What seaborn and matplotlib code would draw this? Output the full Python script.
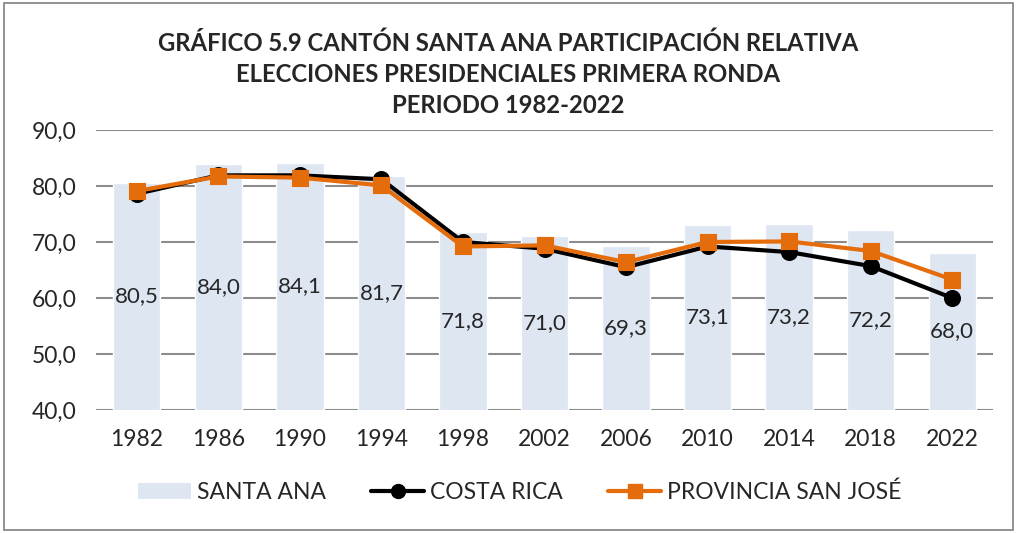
import matplotlib
matplotlib.use("Agg")
import matplotlib.pyplot as plt
import seaborn as sns
import pandas as pd
from matplotlib.patches import Patch, Rectangle
from matplotlib.lines import Line2D

# values
years = ["1982", "1986", "1990", "1994", "1998", "2002", "2006", "2010", "2014", "2018", "2022"]
santa_ana = [80.5, 84.0, 84.1, 81.7, 71.8, 71.0, 69.3, 73.1, 73.2, 72.2, 68.0]
costa_rica = [78.6, 81.9, 81.9, 81.2, 70.0, 68.8, 65.5, 69.2, 68.2, 65.7, 60.0]
san_jose = [79.1, 81.7, 81.5, 80.1, 69.2, 69.4, 66.4, 70.0, 70.1, 68.4, 63.3]

title = ("GRÁFICO 5.9 CANTÓN SANTA ANA PARTICIPACIÓN RELATIVA\n"
         "ELECCIONES PRESIDENCIALES PRIMERA RONDA\n"
         "PERIODO 1982-2022")

BAR_COLOR = "#DEE6F2"
ORANGE = "#E46C0A"

sns.set_style("white")
plt.rcParams["font.family"] = ["Lato", "DejaVu Sans"]

df = pd.DataFrame({"year": years, "santa_ana": santa_ana,
                   "costa_rica": costa_rica, "san_jose": san_jose})

fig = plt.figure(figsize=(10.17, 5.33), dpi=100)
ax = fig.add_axes([0.0944, 0.2308, 0.8820, 0.5253])

sns.barplot(data=df, x="year", y="santa_ana", color=BAR_COLOR, saturation=1,
            width=0.58, ax=ax, zorder=2)
sns.pointplot(data=df, x="year", y="costa_rica", color="black", markers="o",
              markersize=10, linewidth=3, ax=ax, zorder=4)
sns.pointplot(data=df, x="year", y="san_jose", color=ORANGE, markers="s",
              markersize=10, linewidth=3, ax=ax, zorder=5)

ax.set_ylim(40, 90)
ax.set_xlim(-0.5, len(years) - 0.5)
ax.set_yticks([40, 50, 60, 70, 80, 90])
ax.set_yticklabels([f"{v:.1f}".replace(".", ",") for v in [40, 50, 60, 70, 80, 90]])
ax.yaxis.grid(True, color="#8c8c8c", linewidth=1.5, zorder=0)
ax.set_axisbelow(True)
for s in ax.spines.values():
    s.set_visible(False)
ax.tick_params(axis="both", labelsize=16.5, length=0)
ax.tick_params(axis="x", pad=14)
ax.tick_params(axis="y", pad=14)
ax.set_xlabel("")
ax.set_ylabel("")

# value labels centred in the visible part of each bar
for i, v in enumerate(santa_ana):
    ax.text(i, (40 + v) / 2, f"{v:.1f}".replace(".", ","), ha="center",
            va="center", fontsize=16, zorder=6)

fig.suptitle(title, x=0.5, y=0.94, fontsize=17.2, fontweight="bold",
             linespacing=1.42, va="top")

handles = [
    Patch(facecolor=BAR_COLOR, edgecolor="none"),
    Line2D([], [], color="black", lw=3, marker="o", markersize=10),
    Line2D([], [], color=ORANGE, lw=3, marker="s", markersize=10),
]
fig.legend(handles, ["SANTA ANA", "COSTA RICA", "PROVINCIA SAN JOSÉ"],
           loc="center", bbox_to_anchor=(0.511, 0.077), ncol=3, frameon=False,
           fontsize=16.5, handlelength=2.3, columnspacing=2.0, handletextpad=0.25)

fig.patches.append(Rectangle((0.004, 0.006), 0.992, 0.988, transform=fig.transFigure,
                             fill=False, edgecolor="#7f7f7f", linewidth=1.2))

fig.savefig("out.png", dpi=100)
